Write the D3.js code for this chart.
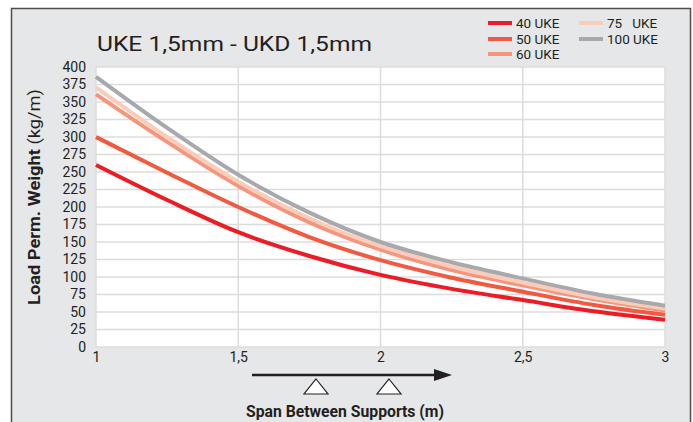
<!DOCTYPE html>
<html>
<head>
<meta charset="utf-8">
<script src="https://cdn.jsdelivr.net/npm/d3@7"></script>
<style>
  body { margin: 0; background: #fff; }
  svg { display: block; font-family: Roboto, "Liberation Sans", sans-serif; }
</style>
</head>
<body>
<svg id="chart" width="693" height="422"></svg>
<script>
// data
const spans = [1, 1.25, 1.5, 1.75, 2, 2.25, 2.5, 2.75, 3];
const uke40  = [260, 210, 164, 130, 103, 83, 67, 51, 39];
const uke50  = [300, 249, 200, 157, 124, 99, 79, 60, 46];
const uke60  = [361, 293, 230, 178, 139, 110, 88, 68, 52];
const uke75  = [371, 300, 236, 184, 144, 115, 92, 71, 55];
const uke100 = [386, 313, 246, 192, 150, 121, 98, 76, 59];
const seriesNames = ["40 UKE", "50 UKE", "60 UKE", "75   UKE", "100 UKE"];
const seriesColors = ["#ed1c24", "#f15a40", "#f6957c", "#fbcdb8", "#a7a9ac"];
const yTicks = d3.range(0, 401, 25);
const xTicks = [1, 1.5, 2, 2.5, 3];

const series = [uke40, uke50, uke60, uke75, uke100].map((v, i) => ({
  name: seriesNames[i], color: seriesColors[i],
  values: v.map((d, j) => ({x: spans[j], y: d}))
}));

// set the dimensions and margins of the plot
let margin = {top: 67, right: 28, bottom: 75, left: 96},
    width = 693 - margin.left - margin.right,
    height = 422 - margin.top - margin.bottom;

const svg = d3.select("#chart");

// grey frame
svg.append("rect")
  .attr("x", 11.5).attr("y", 8.5)
  .attr("width", 679).attr("height", 430)
  .attr("fill", "#e6e7e8")
  .attr("stroke", "#4d4d4d")
  .attr("stroke-width", 1.5);

svg.append("text")
  .attr("x", 97).attr("y", 51)
  .attr("font-size", 21)
  .attr("textLength", 275)
  .attr("lengthAdjust", "spacingAndGlyphs")
  .attr("fill", "#231f20")
  .text("UKE 1,5mm - UKD 1,5mm");

const x = d3.scaleLinear().domain([1, 3]).range([0, width]);
const y = d3.scaleLinear().domain([0, 400]).range([height, 0]);

const g = svg.append("g")
  .attr("transform", "translate(" + margin.left + "," + margin.top + ")");

g.append("rect")
  .attr("width", width).attr("height", height)
  .attr("fill", "#fff");

// grid lines
g.selectAll(".hgrid")
  .data(yTicks)
  .enter().append("line")
  .attr("x1", 0).attr("x2", width)
  .attr("y1", d => y(d)).attr("y2", d => y(d))
  .attr("stroke", "#dcdcdc").attr("stroke-width", 1.5);

g.selectAll(".vgrid")
  .data(xTicks)
  .enter().append("line")
  .attr("y1", 0).attr("y2", height)
  .attr("x1", d => x(d)).attr("x2", d => x(d))
  .attr("stroke", "#dcdcdc").attr("stroke-width", 1.5);

// axes (labels only)
const yAxis = g.append("g")
  .call(d3.axisLeft(y).tickValues(yTicks).tickSize(0).tickPadding(10));
const xAxis = g.append("g")
  .attr("transform", "translate(0," + height + ")")
  .call(d3.axisBottom(x).tickValues(xTicks).tickSize(0).tickPadding(5)
    .tickFormat(d => String(d).replace(".", ",")));
[yAxis, xAxis].forEach(a => {
  a.select(".domain").remove();
  a.selectAll("text")
    .attr("font-family", "Roboto, sans-serif")
    .attr("font-size", 14)
    .attr("fill", "#231f20");
});

// lines
const line = d3.line()
  .x(d => x(d.x))
  .y(d => y(d.y))
  .curve(d3.curveMonotoneX);

g.selectAll(".series")
  .data(series)
  .enter().append("path")
  .attr("d", d => line(d.values))
  .attr("fill", "none")
  .attr("stroke", d => d.color)
  .attr("stroke-width", 4);

// legend
const legendPos = [[488, 23], [488, 39], [488, 54], [579, 23], [579, 39]];
const legend = svg.selectAll(".legend")
  .data(series)
  .enter().append("g")
  .attr("transform", (d, i) => "translate(" + legendPos[i][0] + "," + legendPos[i][1] + ")");
legend.append("line")
  .attr("x1", 0).attr("x2", 24)
  .attr("stroke", d => d.color).attr("stroke-width", 4);
legend.append("text")
  .attr("x", 28).attr("dy", "0.36em")
  .attr("font-size", 13.5)
  .attr("fill", "#231f20")
  .style("white-space", "pre")
  .text(d => d.name);

// y axis title
svg.append("text")
  .attr("transform", "translate(40,197) rotate(-90)")
  .attr("text-anchor", "middle")
  .attr("font-size", 16)
  .attr("textLength", 216)
  .attr("lengthAdjust", "spacingAndGlyphs")
  .attr("fill", "#231f20")
  .call(t => {
    t.append("tspan").attr("font-weight", "bold").text("Load Perm. Weight ");
    t.append("tspan").text("(kg/m)");
  });

// x axis arrow and supports
svg.append("line")
  .attr("x1", 252).attr("x2", 437)
  .attr("y1", 375).attr("y2", 375)
  .attr("stroke", "#231f20").attr("stroke-width", 2.5);
svg.append("path")
  .attr("d", "M434,369 L452,375 L434,381 Z")
  .attr("fill", "#231f20");
[316, 389].forEach(cx => {
  svg.append("path")
    .attr("d", "M" + cx + ",379 L" + (cx + 12) + ",394 L" + (cx - 12) + ",394 Z")
    .attr("fill", "#fff")
    .attr("stroke", "#231f20")
    .attr("stroke-width", 1.2);
});

svg.append("text")
  .attr("x", 345).attr("y", 417)
  .attr("text-anchor", "middle")
  .attr("font-size", 16)
  .attr("font-weight", "bold")
  .attr("textLength", 198)
  .attr("lengthAdjust", "spacingAndGlyphs")
  .attr("fill", "#231f20")
  .text("Span Between Supports (m)");
</script>
</body>
</html>
